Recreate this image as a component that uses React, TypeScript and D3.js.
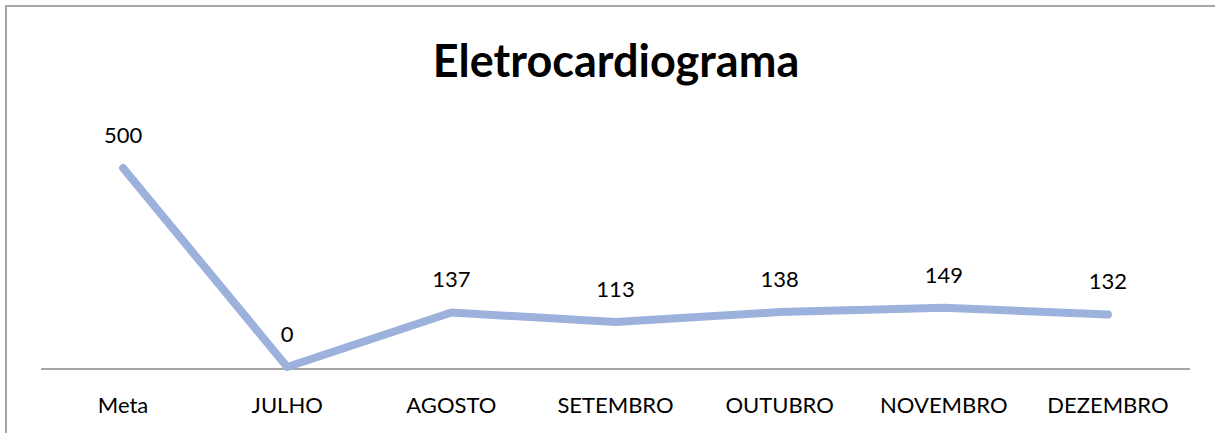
import React, { useEffect, useRef } from "react";
import * as d3 from "d3";

const categories = ["Meta", "JULHO", "AGOSTO", "SETEMBRO", "OUTUBRO", "NOVEMBRO", "DEZEMBRO"];
const values = [500, 0, 137, 113, 138, 149, 132];
const title = "Eletrocardiograma";

const W = 1215;
const H = 433;

export default function App() {
  const ref = useRef<SVGSVGElement>(null);

  useEffect(() => {
    document.body.style.margin = "0";
    document.body.style.overflow = "hidden";
    document.documentElement.style.overflow = "hidden";
    const svg = d3.select(ref.current);
    svg.selectAll("*").remove();

    const x = d3.scaleBand<string>().domain(categories).range([41, 1190]);
    const y = d3.scaleLinear().domain([0, 500]).range([367, 168]);
    const font = "Lato, 'Open Sans', sans-serif";

    svg.append("rect").attr("x", 0).attr("y", 0).attr("width", W).attr("height", H).attr("fill", "#fff");

    svg.append("path")
      .attr("d", `M6,${H} L6,6 L${W},6`)
      .attr("fill", "none").attr("stroke", "#A6A6A6").attr("stroke-width", 2);

    svg.append("text")
      .attr("x", 616).attr("y", 77)
      .attr("text-anchor", "middle")
      .attr("font-family", font).attr("font-weight", 700)
      .attr("font-size", 45).attr("fill", "#000")
      .text(title);

    svg.append("line")
      .attr("x1", 41).attr("x2", 1190)
      .attr("y1", 369).attr("y2", 369)
      .attr("stroke", "#A6A6A6").attr("stroke-width", 2);

    const cx = (c: string) => (x(c) as number) + x.bandwidth() / 2;

    const line = d3.line<number>()
      .x((_, i) => cx(categories[i]))
      .y((d) => y(d));

    svg.append("path")
      .datum(values)
      .attr("d", line)
      .attr("fill", "none")
      .attr("stroke", "#9DB1DD")
      .attr("stroke-width", 8)
      .attr("stroke-linecap", "round")
      .attr("stroke-linejoin", "round");

    svg.append("g").selectAll("text")
      .data(values)
      .join("text")
      .attr("x", (_, i) => cx(categories[i]))
      .attr("y", (d) => y(d) - 25)
      .attr("text-anchor", "middle")
      .attr("font-family", font).attr("font-size", 22).attr("fill", "#000")
      .text((d) => String(d));

    svg.append("g").selectAll("text")
      .data(categories)
      .join("text")
      .attr("x", (c) => cx(c))
      .attr("y", 413)
      .attr("text-anchor", "middle")
      .attr("font-family", font).attr("font-size", 22).attr("fill", "#000")
      .text((c) => c);
  }, []);

  return (
    <svg
      ref={ref}
      width={W}
      height={H}
      style={{ position: "absolute", left: 0, top: 0, display: "block" }}
    />
  );
}
